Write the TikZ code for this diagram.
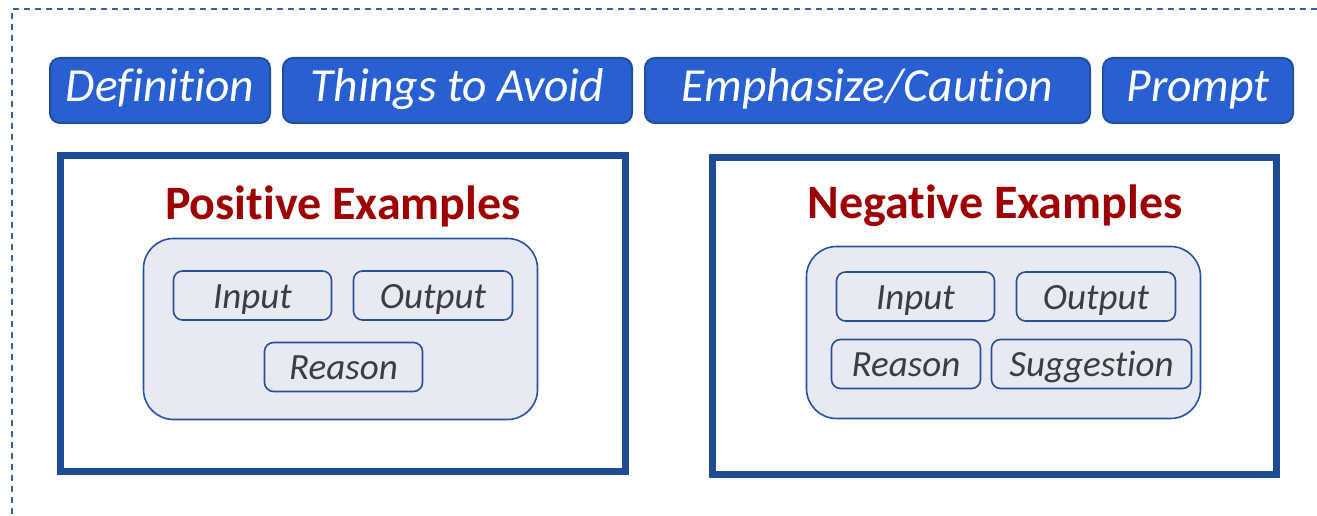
\documentclass[tikz,border=0pt]{standalone}
\usepackage{xcolor}
\usepackage{fontspec}
\setmainfont{Carlito}[Ligatures=NoCommon]
\usepackage{tikz}

\definecolor{tabblue}{HTML}{2860D2}
\definecolor{tabedge}{HTML}{1F4E9A}
\definecolor{frameblue}{HTML}{1F4A96}
\definecolor{panelfill}{HTML}{E8EAF2}
\definecolor{paneledge}{HTML}{2850A0}
\definecolor{titlered}{HTML}{9C0000}
\definecolor{textgray}{HTML}{3A3D45}
\definecolor{dashblue}{HTML}{3A5FA0}

\tikzset{
  tab/.style={draw=tabedge, line width=2pt, fill=tabblue, rounded corners=10pt,
    text=white, font=\fontsize{47.5}{47.5}\selectfont\itshape,
    minimum height=65pt, inner sep=0pt, text height=30pt, text depth=7pt},
  frame/.style={draw=frameblue, line width=7pt, inner sep=0pt},
  panel/.style={draw=paneledge, line width=1.6pt, fill=panelfill, rounded corners=30pt, inner sep=0pt},
  field/.style={draw=paneledge, line width=1.6pt, fill=panelfill, rounded corners=9pt,
    text=textgray, font=\fontsize{37}{37}\selectfont\itshape,
    minimum height=49pt, inner sep=0pt, text height=28pt, text depth=3pt},
  heading/.style={text=titlered, font=\fontsize{48}{48}\selectfont\bfseries, inner sep=0pt, anchor=base}
}

\begin{document}
\begin{tikzpicture}[x=1pt,y=-1pt]
\useasboundingbox (0,0) rectangle (1317,516);
\draw[dashblue, line width=1.5pt, dash pattern=on 6pt off 5pt] (1317,9) -- (12,9) -- (12,516);

% top row
\node[tab, minimum width=220pt] (def) at (160,90.5) {Definition};
\node[tab, minimum width=349pt] (avoid) at (457.5,90.5) {Things to Avoid};
\node[tab, minimum width=445pt] (caution) at (867.5,90.5) {Emphasize/Caution};
\node[tab, minimum width=190pt] (prompt) at (1198,90.5) {Prompt};

% positive side
\node[frame, minimum width=565pt, minimum height=316pt] (pos) at (343,313.5) {};
\node[heading] (postitle) at (343,219) {Positive Examples};
\node[panel, minimum width=394pt, minimum height=181pt] (pospanel) at (340.5,329) {};
\node[field, minimum width=158pt] (posin) at (252.5,295.5) {Input};
\node[field, minimum width=159pt] (posout) at (433,295.5) {Output};
\node[field, minimum width=158pt] (posreason) at (343.5,367) {Reason};

% negative side
\node[frame, minimum width=564pt, minimum height=317pt] (neg) at (994.5,316) {};
\node[heading] (negtitle) at (995,218) {Negative Examples};
\node[panel, minimum width=394pt, minimum height=172pt] (negpanel) at (1003.5,332.5) {};
\node[field, minimum width=158pt] (negin) at (915.5,296.5) {Input};
\node[field, minimum width=159pt] (negout) at (1096,296.5) {Output};
\node[field, minimum width=149pt] (negreason) at (906,364) {Reason};
\node[field, minimum width=200pt] (negsugg) at (1091.5,364) {Suggestion};
\end{tikzpicture}
\end{document}
